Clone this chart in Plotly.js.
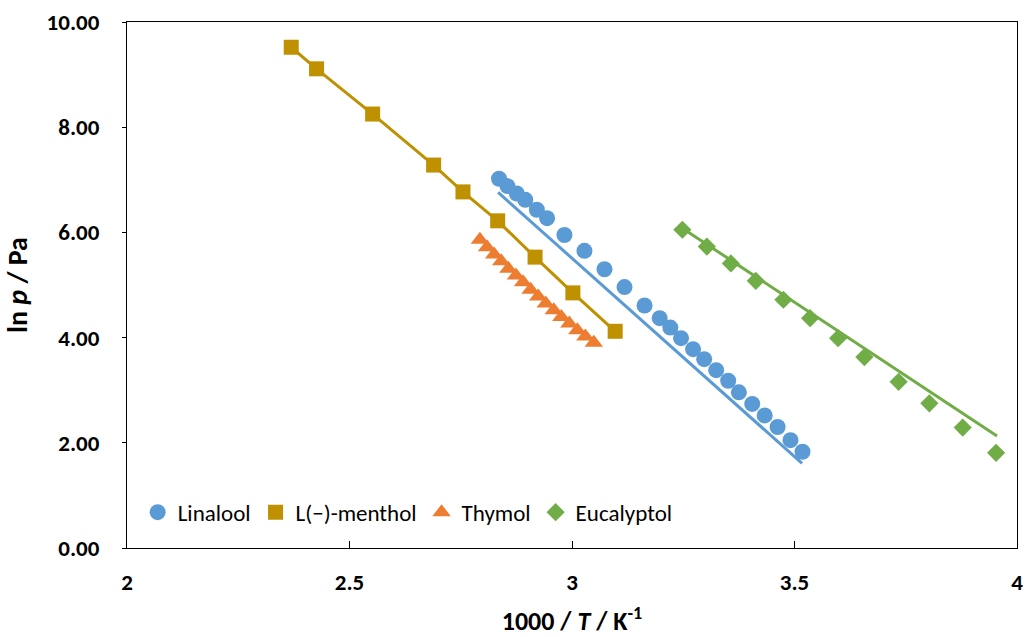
<!DOCTYPE html>
<html>
<head>
<meta charset="utf-8">
<script src="https://cdn.plot.ly/plotly-3.0.1.min.js"></script>
<style>html,body{margin:0;padding:0;background:#fff;}#chart{width:1028px;height:637px;}</style>
</head>
<body>
<div id="chart"></div>
<script>
// Linalool experimental points
const linaloolX = [2.836, 2.855, 2.876, 2.895, 2.921, 2.944, 2.983, 3.028, 3.073, 3.118, 3.163, 3.197, 3.221, 3.245, 3.272, 3.297, 3.324, 3.351, 3.375, 3.405, 3.433, 3.462, 3.491, 3.518];
const linaloolY = [7.02, 6.88, 6.74, 6.62, 6.43, 6.27, 5.95, 5.65, 5.30, 4.96, 4.61, 4.37, 4.19, 3.99, 3.78, 3.59, 3.38, 3.18, 2.96, 2.74, 2.52, 2.30, 2.05, 1.83];
const linaloolFitX = [2.834, 3.517];
const linaloolFitY = [6.76, 1.61];

// L(-)-menthol
const mentholX = [2.369, 2.426, 2.552, 2.689, 2.755, 2.833, 2.917, 3.002, 3.097];
const mentholY = [9.52, 9.11, 8.25, 7.28, 6.77, 6.22, 5.53, 4.85, 4.12];

// Thymol
const thymolX = [2.793, 2.809, 2.825, 2.841, 2.857, 2.874, 2.890, 2.907, 2.924, 2.941, 2.959, 2.976, 2.994, 3.012, 3.030, 3.049];
const thymolY = [5.86, 5.72, 5.58, 5.45, 5.31, 5.18, 5.05, 4.91, 4.78, 4.65, 4.52, 4.39, 4.27, 4.14, 4.02, 3.90];

// Eucalyptol
const eucalyptolX = [3.248, 3.303, 3.357, 3.413, 3.475, 3.535, 3.598, 3.657, 3.734, 3.803, 3.878, 3.953];
const eucalyptolY = [6.05, 5.73, 5.41, 5.08, 4.72, 4.37, 3.99, 3.63, 3.16, 2.75, 2.29, 1.81];
const eucalyptolFitX = [3.248, 3.955];
const eucalyptolFitY = [6.08, 2.13];

const xTicks = [2, 2.5, 3, 3.5, 4];
const yTicks = [0, 2, 4, 6, 8, 10];

const cBlue = '#5B9BD5', cGold = '#BF9000', cOrange = '#ED7D31', cGreen = '#70AD47';
const FONT = 'Carlito, Lato, "Open Sans", sans-serif';

const traces = [
  {x: linaloolFitX, y: linaloolFitY, mode: 'lines', line: {color: cBlue, width: 3}, showlegend: false, hoverinfo: 'skip'},
  {x: eucalyptolFitX, y: eucalyptolFitY, mode: 'lines', line: {color: cGreen, width: 3}, showlegend: false, hoverinfo: 'skip'},
  {x: mentholX, y: mentholY, mode: 'lines', line: {color: cGold, width: 3}, showlegend: false, hoverinfo: 'skip'},
  {x: linaloolX, y: linaloolY, mode: 'markers', name: 'Linalool', marker: {symbol: 'circle', size: 16, color: cBlue}},
  {x: mentholX, y: mentholY, mode: 'markers', name: 'L(\u2212)-menthol', marker: {symbol: 'square', size: 15, color: cGold}},
  {x: thymolX, y: thymolY, mode: 'markers', name: 'Thymol', marker: {symbol: 'triangle-up', size: 16, color: cOrange}},
  {x: eucalyptolX, y: eucalyptolY, mode: 'markers', name: 'Eucalyptol', marker: {symbol: 'diamond', size: 14, color: cGreen}}
];

const layout = {
  width: 1028, height: 637,
  margin: {l: 127, r: 11, t: 22, b: 89},
  paper_bgcolor: '#fff', plot_bgcolor: '#fff',
  font: {family: FONT, color: '#000'},
  showlegend: true,
  legend: {orientation: 'h', x: 0.012, xanchor: 'left', y: 0.068, yanchor: 'middle',
           font: {family: FONT, size: 23, color: '#000'}, bgcolor: 'rgba(0,0,0,0)', itemwidth: 30, tracegroupgap: 0},
  xaxis: {
    range: [2, 4], tickvals: xTicks, ticktext: xTicks.map(String),
    showgrid: false, zeroline: false,
    showline: true, mirror: true, linecolor: '#000', linewidth: 1,
    ticks: 'inside', ticklen: 7, tickcolor: '#000', tickwidth: 1,
    ticklabelstandoff: 13,
    tickfont: {family: FONT, size: 23, color: '#000', weight: 'bold'},
    title: {text: '<b>1000 / <i>T</i> / K<sup>-1</sup></b>', font: {family: FONT, size: 26, color: '#000'}, standoff: 20}
  },
  yaxis: {
    range: [0, 10], tickvals: yTicks, tickformat: '.2f',
    showgrid: false, zeroline: false,
    showline: true, mirror: true, linecolor: '#000', linewidth: 1,
    ticks: 'outside', ticklen: 4, tickcolor: '#000', tickwidth: 1,
    ticklabelstandoff: 18,
    tickfont: {family: FONT, size: 23, color: '#000', weight: 'bold'},
    title: {text: '<b>ln <i>p</i> / Pa</b>', font: {family: FONT, size: 28, color: '#000'}, standoff: 10}
  }
};

Plotly.newPlot('chart', traces, layout, {staticPlot: true, displayModeBar: false});
</script>
</body>
</html>
